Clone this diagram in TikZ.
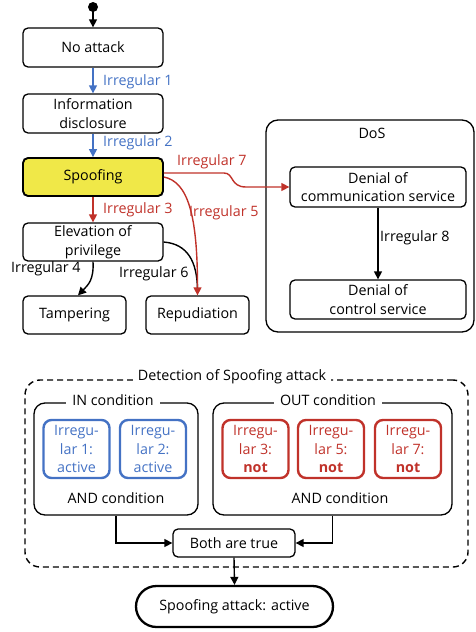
\documentclass[tikz,border=0pt]{standalone}
\usepackage{fontspec}
\setmainfont{Open Sans}
\usetikzlibrary{arrows.meta,shapes.misc,calc}

\definecolor{irred}{RGB}{192,50,42}
\definecolor{irblue}{RGB}{68,114,196}
\definecolor{spoofyellow}{RGB}{240,232,72}

\tikzset{
  txt/.style={font=\fontsize{14.3}{18.5}\selectfont, inner sep=0pt, align=center},
  box/.style={txt, draw, rounded corners=5pt, line width=1.3pt},
  frame/.style={draw, line width=1.3pt, rounded corners=11pt, inner sep=0pt},
  cond/.style={txt, draw, line width=2.4pt, rounded corners=8pt,
    minimum width=66pt, minimum height=58pt, font=\fontsize{14.3}{18.5}\selectfont},
  lbl/.style={txt, anchor=west},
  arr/.style={line width=1.4pt, -{Triangle[length=8pt,width=8pt]}},
}

\begin{document}
\begin{tikzpicture}[x=1pt,y=-1pt]
\useasboundingbox (0,0) rectangle (476,632);

% ---- state chart ----
\fill (93,7) circle (5pt) coordinate (start);
\node[box, minimum width=140pt, minimum height=39pt] (noatt) at (93,47.5) {No attack};
\node[box, minimum width=140pt, minimum height=39pt] (info) at (93,113.5) {Information\\disclosure};
\node[box, fill=spoofyellow, line width=1.9pt, minimum width=140pt, minimum height=38pt] (spo) at (93,177) {Spoofing};
\node[box, minimum width=140pt, minimum height=38pt] (elev) at (93,242) {Elevation of\\privilege};
\node[box, minimum width=103pt, minimum height=38pt] (tam) at (74.5,315) {Tampering};
\node[box, minimum width=103pt, minimum height=38pt] (rep) at (197.5,315) {Repudiation};

\node[frame, rounded corners=12pt, minimum width=208pt, minimum height=212pt] (dos) at (370,226) {};
\node[txt] (doslbl) at (372,133) {DoS};
\node[box, minimum width=176pt, minimum height=40pt] (dcomm) at (378,187) {Denial of\\communication service};
\node[box, minimum width=176pt, minimum height=39pt] (dctrl) at (378,299.5) {Denial of\\control service};

\draw[arr] (start) -- (noatt.north);
\draw[arr, irblue] (noatt.south) -- (info.north);
\node[lbl, text=irblue] (l1) at (103,82) {Irregular 1};
\draw[arr, irblue] (info.south) -- (spo.north);
\node[lbl, text=irblue] (l2) at (103,143) {Irregular 2};
\draw[arr, irred] (spo.south) -- (elev.north);
\node[lbl, text=irred] (l3) at (103,210) {Irregular 3};

\draw[arr] (elev.south) .. controls (94,280) and (88,285) .. ($(tam.north)+(3.5,0)$);
\node[lbl] (l4) at (11,269) {Irregular 4};
\draw[line width=1.4pt] (elev.east) .. controls (188,244) and (197,262) .. ($(rep.north)+(0,-6)$);
\node[lbl] (l6) at (119,274) {Irregular 6};
\draw[arr, irred] (spo.east) .. controls (188,182) and (197.5,215) .. (rep.north);
\node[lbl, text=irred] (l5) at (189,213) {Irregular 5};
\draw[arr, irred] ($(spo.east)+(0,-4)$) -- (224,173) .. controls (234,173) and (230,187) .. (246,187) -- (dcomm.west);
\node[lbl, text=irred] (l7) at (177,162) {Irregular 7};

\draw[arr] (dcomm.south) -- (dctrl.north);
\node[lbl] (l8) at (380,238) {Irregular 8};

% ---- detection logic ----
\node[frame, dash pattern=on 6pt off 4pt, line width=1.4pt, rounded corners=15pt, minimum width=443pt, minimum height=187pt] (det) at (246.5,473.5) {};
\node[txt, fill=white, inner xsep=5pt] (dettl) at (232,377) {Detection of Spoofing attack};
\node[frame, minimum width=164pt, minimum height=112pt] (inbox) at (116,459) {};
\node[txt, fill=white, inner xsep=6pt] (intl) at (113,400) {IN condition};
\node[frame, minimum width=239pt, minimum height=112pt] (outbox) at (332.5,459) {};
\node[txt, fill=white, inner xsep=6pt] (outtl) at (328,400) {OUT condition};

\node[cond, draw=irblue, text=irblue] (c1) at (76.5,449) {Irregu-\\lar 1:\\active};
\node[cond, draw=irblue, text=irblue] (c2) at (153,449) {Irregu-\\lar 2:\\active};
\node[cond, draw=irred, text=irred] (c3) at (255.5,449) {Irregu-\\lar 3:\\\textbf{not}};
\node[cond, draw=irred, text=irred] (c5) at (331,449) {Irregu-\\lar 5:\\\textbf{not}};
\node[cond, draw=irred, text=irred] (c7) at (408,449) {Irregu-\\lar 7:\\\textbf{not}};

\node[txt] (inand) at (116,498) {AND condition};
\node[txt] (outand) at (340,498) {AND condition};

\node[box, minimum width=122pt, minimum height=28pt] (both) at (234,543) {Both are true};
\node[txt, draw, rounded rectangle, line width=2.3pt, minimum width=197pt, minimum height=41pt] (att) at (234.5,606.5) {Spoofing attack: active};

\draw[arr] (inbox.south) |- (both.west);
\draw[arr] (outbox.south) |- (both.east);
\draw[arr] (both.south) -- (att.north);
\end{tikzpicture}
\end{document}
